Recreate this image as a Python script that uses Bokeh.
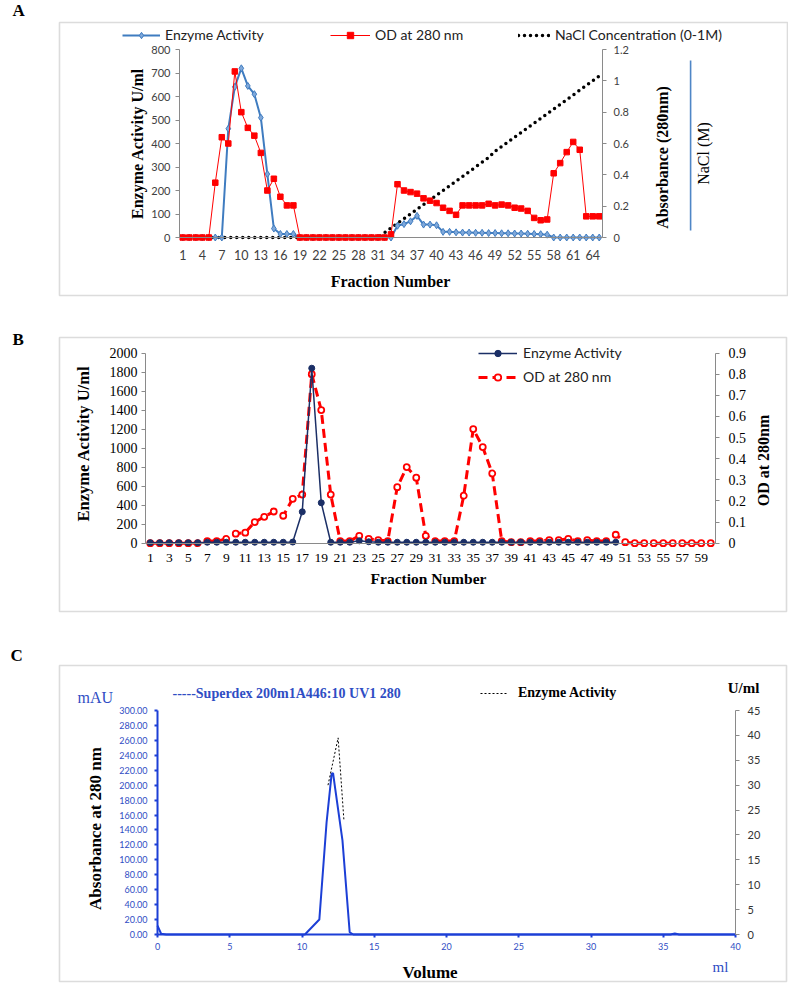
import math
from bokeh.plotting import figure
from bokeh.models import (Range1d, LinearAxis, FixedTicker, Label, BoxAnnotation,
                          Legend, LegendItem, NumeralTickFormatter, CustomJSTickFormatter,
                          ColumnDataSource)
from bokeh.layouts import column
from bokeh.embed import file_html
from bokeh.resources import INLINE

# ---------------- data: panel A ----------------
a_fraction = list(range(1, 66))
a_enzyme = [0, 0, 0, 0, 0, 0, 0,
            463, 641, 720, 645, 610, 510, 270, 38, 15, 15, 15,
            0, 0, 0, 0, 0, 0, 0, 0, 0, 0, 0, 0, 0, 0, 0,
            50, 57, 69, 92, 55, 55, 52, 24, 24, 22,
            21, 21, 20, 20, 19, 19, 18, 18, 17, 17, 16, 15, 14, 12,
            0, 0, 0, 0, 0, 0, 0, 0]
a_od280 = [0, 0, 0, 0, 0,
           0.35, 0.64, 0.60, 1.06, 0.80, 0.70, 0.65, 0.54, 0.30, 0.375, 0.26, 0.205, 0.205,
           0, 0, 0, 0, 0, 0, 0, 0, 0, 0, 0, 0, 0, 0,
           0.02, 0.34, 0.30, 0.29, 0.28, 0.25, 0.235, 0.22, 0.19, 0.17, 0.145,
           0.205, 0.205, 0.205, 0.205, 0.215, 0.205, 0.21, 0.205, 0.19, 0.185, 0.17,
           0.125, 0.11, 0.115, 0.41, 0.475, 0.545, 0.61, 0.56, 0.135, 0.135, 0.135]
a_nacl = [0, 0, 0, 0, 0, 0, 0, 0, 0, 0, 0, 0, 0, 0, 0, 0, 0, 0, 0, 0,
          0, 0, 0, 0, 0, 0, 0, 0, 0, 0, 0,
          0.03, 0.06, 0.09, 0.12, 0.15, 0.18, 0.21, 0.24, 0.27, 0.30, 0.33, 0.36,
          0.39, 0.42, 0.45, 0.48, 0.51, 0.55, 0.58, 0.61, 0.64, 0.67, 0.70, 0.73,
          0.76, 0.79, 0.82, 0.85, 0.88, 0.91, 0.94, 0.97, 1.00, 1.03]
a_x_ticks = [1, 4, 7, 10, 13, 16, 19, 22, 25, 28, 31, 34, 37, 40, 43, 46, 49, 52, 55, 58, 61, 64]
a_left_ticks = [0, 100, 200, 300, 400, 500, 600, 700, 800]
a_right_ticks = [0, 0.2, 0.4, 0.6, 0.8, 1, 1.2]

# ---------------- data: panel B ----------------
b_fraction = list(range(1, 61))
b_enz_fraction = list(range(1, 51))
b_enzyme = [5, 5, 5, 5, 5, 5, 10, 10, 10, 10, 10, 10, 10, 10, 10, 12,
            330, 1840, 425, 10, 10, 10, 25, 15, 10, 10,
            10, 10, 10, 10, 10, 10, 10, 10, 10, 10, 10, 10, 10, 10, 10, 10,
            10, 10, 10, 10, 10, 10, 10, 10]
b_od280 = [0, 0, 0, 0, 0, 0, 0.01, 0.01, 0.02, 0.045, 0.05, 0.10, 0.125, 0.15, 0.13,
           0.21, 0.23, 0.80, 0.63, 0.23, 0.01, 0.01, 0.035, 0.02, 0.015, 0.01,
           0.265, 0.36, 0.31, 0.035, 0.01, 0.01, 0.01, 0.225, 0.54, 0.455, 0.33,
           0.01, 0.005, 0.005, 0.01, 0.01, 0.015, 0.015, 0.02, 0.01, 0.015, 0.01, 0.01,
           0.04, 0.005, 0, 0, 0, 0, 0, 0, 0, 0, 0]
b_x_ticks = [1, 3, 5, 7, 9, 11, 13, 15, 17, 19, 21, 23, 25, 27, 29, 31, 33, 35, 37, 39,
             41, 43, 45, 47, 49, 51, 53, 55, 57, 59]
b_left_ticks = [0, 200, 400, 600, 800, 1000, 1200, 1400, 1600, 1800, 2000]
b_right_ticks = [0, 0.1, 0.2, 0.3, 0.4, 0.5, 0.6, 0.7, 0.8, 0.9]

# ---------------- data: panel C ----------------
c_volume = [0.0, 0.25, 0.6, 10.2, 10.35, 11.2, 11.7, 12.05, 12.15, 12.3, 12.8, 13.3, 13.55,
            35.5, 35.8, 36.1, 40.0]
c_uv280 = [12, 1, 0, 0, 3, 20, 150, 215, 216, 195, 126, 3, 0, 0, 1.5, 0, 0]
c_act_volume = [11.8, 12.5, 12.9]
c_activity = [30, 39.5, 23]
c_x_ticks = [0, 5, 10, 15, 20, 25, 30, 35, 40]
c_left_ticks = [0, 20, 40, 60, 80, 100, 120, 140, 160, 180, 200, 220, 240, 260, 280, 300]
c_right_ticks = [0, 5, 10, 15, 20, 25, 30, 35, 40, 45]

# ---------------- styles ----------------
SERIF = "Liberation Serif"
SANS = "Lato"
AX_GRAY = "#8a8a8a"
BOX_GRAY = "#8c8c8c"
BLUE_A = "#3F7CC0"
RED = "#FF0000"
NAVY = "#1B2F66"
BLUE_C = "#1C3FD6"
BLUE_TXT = "#2F4DC4"
W = 788


def make_fig(H, box, xr, yr):
    """Figure whose frame is the whole canvas; box = plot-area (l, t, r, b) in canvas px."""
    l, t, r, b = box
    kx = (xr[1] - xr[0]) / (r - l)
    ky = (yr[1] - yr[0]) / (b - t)
    x_rng = Range1d(xr[0] - l * kx, xr[1] + (W - r) * kx)
    y_rng = Range1d(yr[0] - (H - b) * ky, yr[1] + t * ky)
    p = figure(width=W, height=H, x_range=x_rng, y_range=y_rng,
               output_backend="svg", toolbar_location=None,
               x_axis_location=None, y_axis_location=None,
               min_border=0, min_border_left=0, min_border_right=0,
               min_border_top=0, min_border_bottom=0,
               outline_line_color=None, background_fill_color="white",
               border_fill_color="white")
    p.xgrid.visible = False
    p.ygrid.visible = False
    return p


def extra_range(H, box, yr):
    l, t, r, b = box
    ky = (yr[1] - yr[0]) / (b - t)
    return Range1d(yr[0] - (H - b) * ky, yr[1] + t * ky)


def style_axis(ax, line_color=AX_GRAY, line_width=1, tick_out=4, font=SANS, size=11,
               color="#404040", standoff=5):
    ax.axis_line_color = line_color
    ax.axis_line_width = line_width
    ax.major_tick_line_color = line_color if tick_out else None
    ax.major_tick_line_width = line_width
    ax.major_tick_out = tick_out
    ax.major_tick_in = 0
    ax.minor_tick_line_color = None
    ax.major_label_text_font = font
    ax.major_label_text_font_size = f"{size}px"
    ax.major_label_text_color = color
    ax.major_label_standoff = standoff


def screen_label(p, H, top, text, x, y, size, font=SERIF, style="normal", color="black",
                 align="left", baseline="middle", angle=0.0):
    p.add_layout(Label(x=x, y=H - (y - top), x_units="screen", y_units="screen",
                       text=text, text_font=font, text_font_size=f"{size}px",
                       text_font_style=style, text_color=color, text_align=align,
                       text_baseline=baseline, angle=angle))


def screen_box(p, H, top, l, t, r, b, line_color=BOX_GRAY, fill_color=None, lw=1.6):
    p.add_layout(BoxAnnotation(left=l, right=r, top=H - (t - top), bottom=H - (b - top),
                               left_units="screen", right_units="screen",
                               top_units="screen", bottom_units="screen",
                               fill_color=fill_color, fill_alpha=1 if fill_color else 0,
                               line_color=line_color, line_width=lw))


def place_legend(p, H, top, items, x, y_bottom, gw, standoff, font, size, style="normal",
                 color="black", spacing=0):
    lg = Legend(items=items, location=(x, H - (y_bottom - top)), orientation="vertical",
                padding=0, margin=0, spacing=spacing, border_line_color=None,
                background_fill_alpha=0, glyph_width=gw, glyph_height=16, label_height=16,
                label_standoff=standoff, label_text_font=font, label_text_font_size=f"{size}px",
                label_text_font_style=style, label_text_color=color)
    p.add_layout(lg, "center")


# =============== Panel A ===============
TA, HA = 0, 320
BOXA = (179, 49, 602, 237)
pa = make_fig(HA, BOXA, (0.5, 65.5), (0, 800))
pa.extra_y_ranges = {"od": extra_range(HA, BOXA, (0, 1.2))}
src_a = ColumnDataSource(dict(frac=a_fraction, enz=a_enzyme, od=a_od280, nacl=a_nacl))

xa = LinearAxis(ticker=FixedTicker(ticks=a_x_ticks), fixed_location=0, bounds=(0.5, 65.5))
style_axis(xa, tick_out=0, size=12.5, standoff=12)
pa.add_layout(xa, "below")
ya = LinearAxis(ticker=FixedTicker(ticks=a_left_ticks), fixed_location=0.5, bounds=(0, 800))
style_axis(ya, tick_out=4, size=11, standoff=5)
pa.add_layout(ya, "left")
ra = LinearAxis(y_range_name="od", ticker=FixedTicker(ticks=a_right_ticks),
                formatter=CustomJSTickFormatter(code="return tick.toString();"),
                fixed_location=65.5, bounds=(0, 1.2))
style_axis(ra, tick_out=4, size=11, standoff=7)
pa.add_layout(ra, "right")

r_nacl = pa.line("frac", "nacl", source=src_a, y_range_name="od", line_color="black",
                 line_width=3.5, line_dash="0 6", line_cap="round")
r_enz = pa.line("frac", "enz", source=src_a, line_color=BLUE_A, line_width=2)
r_enz_m = pa.scatter("frac", "enz", source=src_a, marker="diamond", size=7,
                     fill_color="#7FA8DA", line_color=BLUE_A, line_width=1)
r_od = pa.line("frac", "od", source=src_a, y_range_name="od", line_color=RED, line_width=1)
r_od_m = pa.scatter("frac", "od", source=src_a, y_range_name="od", marker="square", size=5.5,
                    fill_color=RED, line_color=RED)

place_legend(pa, HA, TA, [LegendItem(label="Enzyme Activity", renderers=[r_enz, r_enz_m])],
             122, 43, 38, 5, SANS, 14, color="#222222")
place_legend(pa, HA, TA, [LegendItem(label="OD at 280 nm", renderers=[r_od, r_od_m])],
             330, 43, 40, 5, SANS, 14, color="#222222")
place_legend(pa, HA, TA, [LegendItem(label="NaCl Concentration (0-1M)", renderers=[r_nacl])],
             518, 43, 32, 5, SANS, 14, color="#222222")

screen_label(pa, HA, TA, "Enzyme Activity U/ml", 137, 143, 16, style="bold", align="center",
             angle=math.pi / 2)
screen_label(pa, HA, TA, "Fraction Number", 390, 281, 16, style="bold", align="center")
screen_label(pa, HA, TA, "Absorbance  (280nm)", 662, 155, 16, style="bold", align="center",
             angle=math.pi / 2)
screen_label(pa, HA, TA, "NaCl (M)", 703, 153, 16, align="center", angle=math.pi / 2)
screen_box(pa, HA, TA, 689.3, 60, 690.9, 230, line_color=None, fill_color="#4F86C6")
screen_box(pa, HA, TA, 59, 22, 787, 295)
screen_label(pa, HA, TA, "A", 12, 10, 17, style="bold")

# =============== Panel B ===============
TB, HB = 320, 318
BOXB = (145, 352.5 - TB, 715, 542.7 - TB)
pb = make_fig(HB, BOXB, (0.5, 60.5), (0, 2000))
pb.extra_y_ranges = {"od": extra_range(HB, BOXB, (0, 0.9))}
src_b_od = ColumnDataSource(dict(frac=b_fraction, od=b_od280))
src_b_enz = ColumnDataSource(dict(frac=b_enz_fraction, enz=b_enzyme))

xb = LinearAxis(ticker=FixedTicker(ticks=b_x_ticks), fixed_location=0, bounds=(0.5, 60.5))
style_axis(xb, tick_out=0, font=SERIF, size=13.5, color="black", standoff=11)
pb.add_layout(xb, "below")
yb = LinearAxis(ticker=FixedTicker(ticks=b_left_ticks), fixed_location=0.5, bounds=(0, 2000))
style_axis(yb, tick_out=4, font=SERIF, size=14, color="black", standoff=4)
pb.add_layout(yb, "left")
rb = LinearAxis(y_range_name="od", ticker=FixedTicker(ticks=b_right_ticks),
                formatter=CustomJSTickFormatter(code="return tick.toString();"),
                fixed_location=60.5, bounds=(0, 0.9))
style_axis(rb, tick_out=4, font=SERIF, size=14, color="black", standoff=9)
pb.add_layout(rb, "right")

r_bod = pb.line("frac", "od", source=src_b_od, y_range_name="od", line_color=RED,
                line_width=3, line_dash="9 5")
r_bod_m = pb.scatter("frac", "od", source=src_b_od, y_range_name="od", marker="circle",
                     size=6, fill_color="white", line_color=RED, line_width=1.8)
r_benz = pb.line("frac", "enz", source=src_b_enz, line_color=NAVY, line_width=1.5)
r_benz_m = pb.scatter("frac", "enz", source=src_b_enz, marker="circle", size=6,
                      fill_color=NAVY, line_color=NAVY)

place_legend(pb, HB, TB, [LegendItem(label="Enzyme Activity", renderers=[r_benz, r_benz_m]),
                          LegendItem(label="OD at 280 nm", renderers=[r_bod, r_bod_m])],
             478, 385, 39, 6, SANS, 14, color="#222222", spacing=7)
screen_label(pb, HB, TB, "Enzyme Activity U/ml", 83, 443, 16.5, style="bold", align="center",
             angle=math.pi / 2)
screen_label(pb, HB, TB, "Fraction Number", 428, 578, 15.5, style="bold", align="center")
screen_label(pb, HB, TB, "OD  at 280nm", 763, 458, 16, style="bold", align="center",
             angle=math.pi / 2)
screen_box(pb, HB, TB, 59, 337, 786, 611)
screen_label(pb, HB, TB, "B", 12, 339, 17, style="bold")

# =============== Panel C ===============
TC, HC = 638, 345
BOXC = (157, 710 - TC, 735, 934 - TC)
pc = make_fig(HC, BOXC, (0, 40), (0, 300))
pc.extra_y_ranges = {"act": extra_range(HC, BOXC, (0, 45))}
src_c = ColumnDataSource(dict(vol=c_volume, uv=c_uv280))
src_c_act = ColumnDataSource(dict(vol=c_act_volume, act=c_activity))

xc = LinearAxis(ticker=FixedTicker(ticks=c_x_ticks), fixed_location=0, bounds=(0, 40))
style_axis(xc, line_color=BLUE_C, line_width=2, tick_out=3, size=9, color=BLUE_TXT, standoff=5)
pc.add_layout(xc, "below")
yc = LinearAxis(ticker=FixedTicker(ticks=c_left_ticks), formatter=NumeralTickFormatter(format="0.00"),
                fixed_location=0, bounds=(0, 300))
style_axis(yc, line_color=BLUE_C, line_width=2, tick_out=3, size=9, color=BLUE_TXT, standoff=7)
pc.add_layout(yc, "left")
rc = LinearAxis(y_range_name="act", ticker=FixedTicker(ticks=c_right_ticks),
                fixed_location=40, bounds=(0, 45))
style_axis(rc, tick_out=4, size=11, color="#333333", standoff=8)
pc.add_layout(rc, "right")

r_uv = pc.line("vol", "uv", source=src_c, line_color=BLUE_C, line_width=2)
r_act = pc.line("vol", "act", source=src_c_act, y_range_name="act", line_color="black",
                line_width=1, line_dash="2 2")

place_legend(pc, HC, TC, [LegendItem(label="Enzyme Activity", renderers=[r_act])],
             480, 701, 28, 10, SERIF, 14, style="bold")
screen_label(pc, HC, TC, "-----Superdex 200m1A446:10 UV1 280", 172, 693, 14, style="bold",
             color=BLUE_TXT)
screen_label(pc, HC, TC, "mAU", 77, 697, 16, color=BLUE_TXT)
screen_label(pc, HC, TC, "U/ml", 743, 687, 15, style="bold", align="center")
screen_label(pc, HC, TC, "Absorbance at 280 nm", 95, 828, 17, style="bold", align="center",
             angle=math.pi / 2)
screen_label(pc, HC, TC, "Volume", 402, 972, 17, style="bold")
screen_label(pc, HC, TC, "ml", 712, 966, 15, color=BLUE_TXT)
screen_box(pc, HC, TC, 59, 665, 786, 981)
screen_label(pc, HC, TC, "C", 10, 655, 17, style="bold")

layout = column(pa, pb, pc, spacing=0)
open("out.html", "w").write(file_html(layout, INLINE))
